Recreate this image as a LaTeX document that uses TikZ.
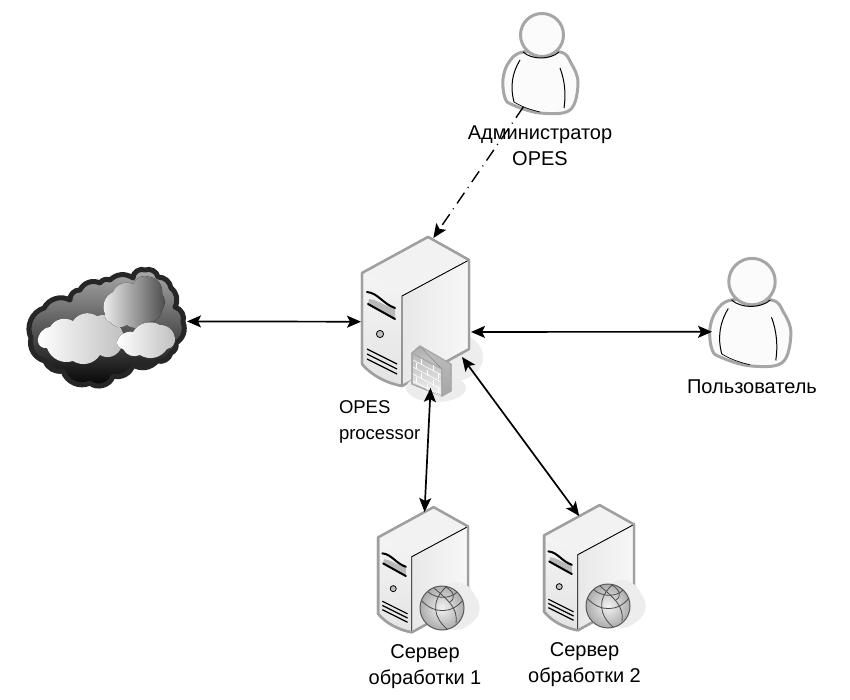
\documentclass[tikz,border=0pt]{standalone}
\usepackage{fontspec}
\setmainfont{Liberation Sans}
\usetikzlibrary{arrows.meta,positioning}

\tikzset{
    server/.pic={
        \fill[gray!14] (38,44) ellipse (29 and 24);
        \draw[gray!75, line width=2.4pt, line join=round, top color=gray!4, bottom color=gray!22]
            (12,-76) -- (53,-53) -- (53,36) -- (-14,73) .. controls (-30,70) and (-45,62) .. (-54,51) -- (-54,-40) -- cycle;
        \fill[left color=gray!18, right color=gray!6] (-14,-17) -- (53,-53) -- (53,36) -- (-14,73) -- cycle;
        \fill[gray!10] (12,-75) -- (52,-53) -- (-14,-18) .. controls (-27,-32) and (-40,-36) .. (-53,-40) -- cycle;
        \draw[black, line width=0.9pt] (53,-53) -- (-14,-17) -- (-14,73);
        \draw[gray!75, line width=2.4pt, line join=round] (12,-76) -- (53,-53) -- (53,36) -- (-14,73) .. controls (-30,70) and (-45,62) .. (-54,51) -- (-54,-40) -- cycle;
        \fill[gray!55] (-48,-9) -- (-47,-14) .. controls (-40,-14) and (-36,-9) .. (-21,-4) -- (-21,6) .. controls (-30,0) and (-40,-4) .. (-48,-9);
        \draw[black, line width=2pt, line cap=round] (-49,-21) .. controls (-38,-20) and (-33,-9) .. (-21,-5);
        \draw[black, line width=2pt, line cap=round] (-48,-9) -- (-21,6);
        \draw[black, fill=gray!50, line width=0.8pt] (-36,21) circle (3.6);
        \foreach \ventrow in {0,5,10} {
            \draw[black, line width=1.2pt] (-49,36+\ventrow) -- (-19,51+\ventrow);
        }
    },
    firewall/.pic={
        \fill[gray!15] (20,75) ellipse (30 and 14);
        \draw[gray!70, line width=1.2pt, line join=round, top color=gray!65, bottom color=gray!8] (4,33) -- (-4,40) -- (-4,71) -- (26,83) -- (26,56) -- cycle;
        \fill[top color=gray!50, bottom color=gray!70] (4,33) -- (35,51) -- (35,78) -- (26,83) -- (26,56) -- cycle;
        \draw[gray!70, line width=1.2pt, line join=round] (4,33) -- (35,51) -- (35,78) -- (26,83) -- (-4,71) -- (-4,40) -- cycle (-4,40) -- (26,56) -- (26,83);
        \foreach \brickrow in {7,14,21,28} {
            \draw[white, line width=0.6pt] (-3,40+\brickrow) -- (25,55+\brickrow);
        }
        \foreach \brickx/\bricky in {5/46,17/52,-0/50,11/57,22/60,5/60,17/67,0/64,11/71,22/74} {
            \draw[white, line width=0.6pt] (\brickx,\bricky) -- +(0,6);
        }
    },
    globe/.pic={
        \fill[gray!14] (14,-2) ellipse (21 and 24);
        \draw[gray!70!black, line width=1pt, inner color=gray!10, outer color=gray!65] (0,0) circle (22);
        \draw[black!70, line width=0.8pt] (4,-21) .. controls (-12,-6) and (-8,10) .. (5,21);
        \draw[black!70, line width=0.8pt] (-8,-20) .. controls (6,-8) and (16,0) .. (14,15);
        \draw[black!70, line width=0.8pt] (-20,-7) .. controls (-8,6) and (10,6) .. (21,-8);
        \draw[black!70, line width=0.8pt] (-14,-16) .. controls (-4,-8) and (10,-10) .. (15,-16);
        \draw[black!70, line width=0.8pt] (4,-21) .. controls (12,-16) and (14,-10) .. (8,-6);
    },
    person/.pic={
        \draw[gray!70, line width=3pt, fill=gray!3, line join=round]
            plot[smooth cycle, tension=0.6] coordinates {(-19,-13) (-33,-3) (-39,14) (-37,33) (-29,40) (-2,48) (28,45) (36,18) (29,-2) (18,-13)};
        \draw[gray!70, line width=3pt, fill=gray!3] (0,-30) circle (21.5);
        \draw[black, line width=1pt] (-19,-13) .. controls (-10,-5) and (8,-5) .. (17,-13);
        \draw[black, line width=1pt] (-22,-5) .. controls (-30,8) and (-32,22) .. (-28,37);
        \draw[black, line width=1pt] (18,3) .. controls (23,16) and (24,30) .. (22,43);
        \draw[black, line width=0.7pt] (-28,37) .. controls (-18,43) and (-10,45) .. (-2,47);
    },
    cloudpic/.pic={
        \draw[black!85, line width=5pt, line join=round, top color=gray!65, middle color=gray!50, bottom color=black]
            (-76,11) to[bend left=50] (-63,-19) to[bend left=45] (-37,-27) to[bend left=50] (-27,-37)
            to[bend left=45] (-7,-44) to[bend left=40] (3,-47) to[bend left=40] (26,-49)
            to[bend left=60] (38,-57) to[bend left=50] (51,-50) to[bend left=40] (64,-39)
            to[bend left=40] (68,-20) to[bend left=45] (76,-5) to[bend left=40] (69,16)
            to[bend left=40] (64,26) to[bend left=45] (50,34) to[bend left=40] (26,38)
            to[bend left=45] (6,49) to[bend left=60] (-17,56) to[bend left=50] (-44,44)
            to[bend left=40] (-62,34) to[bend left=45] (-76,11) -- cycle;
        \fill[shading angle=80, left color=white, right color=gray!50]
            (-69,15) to[bend left=45] (-57,0) to[bend left=45] (-34,-6) to[bend left=45] (-10,-11)
            to[bend left=45] (13,0) to[bend left=35] (13,23) to[bend left=45] (-7,28)
            to[bend left=45] (-34,34) to[bend left=45] (-60,21) to[bend left=45] (-69,15) -- cycle;
        \fill[shading angle=120, left color=gray!10, right color=gray!60!black]
            (-2,-13) to[bend left=45] (6,-35) to[bend left=45] (26,-43) to[bend left=45] (43,-50)
            to[bend left=45] (55,-33) to[bend left=35] (55,-17) to[bend left=45] (41,-5)
            to[bend left=45] (20,-2) to[bend left=45] (3,-5) to[bend left=45] (-2,-13) -- cycle;
        \fill[shading angle=80, left color=white, right color=gray!50]
            (10,15) to[bend left=45] (26,5) to[bend left=45] (53,-2) to[bend left=45] (68,12)
            to[bend left=45] (60,22) to[bend left=45] (33,28) to[bend left=45] (16,22)
            to[bend left=45] (10,15) -- cycle;
    },
    host/.style={rectangle, minimum width=#1, inner sep=0pt, outer sep=0pt},
    caption/.style={font=\fontsize{20pt}{26pt}\selectfont, align=center, inner sep=0pt, outer sep=0pt},
    link/.style={{Stealth[length=14pt, width=12pt, inset=3pt]}-{Stealth[length=14pt, width=12pt, inset=3pt]}, black, line width=1.7pt},
    adminlink/.style={-{Stealth[length=14pt, width=12pt, inset=3pt]}, black, line width=1.4pt, dash pattern=on 13pt off 6pt on 1pt off 6pt}
}

\begin{document}
\begin{tikzpicture}[x=1pt, y=-1pt]
    \useasboundingbox (0,0) rectangle (850,700);

    \node[host=110pt, minimum height=150pt] (opes) at (416,313) {};
    \node[host=160pt, minimum height=120pt, left=174pt of opes, yshift=-14pt] (cloud) {};
    \node[host=76pt, minimum height=84pt] (admin) at (542,65) {};
    \node[host=80pt, minimum height=100pt] (user) at (752,314) {};
    \node[host=90pt, minimum height=118pt, below=124pt of opes, xshift=7.5pt] (server1) {};
    \node[host=90pt, minimum height=106pt, right=76pt of server1, yshift=2pt] (server2) {};
    \coordinate (opes base) at ([shift={(46,44)}]opes.center);

    \pic at (cloud) {cloudpic};
    \pic at (opes) {server};
    \pic at (opes) {firewall};
    \pic[scale=.84] at (server1) {server};
    \pic at ([shift={(18.5,37)}]server1.center) {globe};
    \pic[scale=.84] at (server2) {server};
    \pic at ([shift={(18.5,37)}]server2.center) {globe};
    \pic at (admin) {person};
    \pic[scale=1.08] at (user) {person};

    \node[caption, below=19pt of admin, xshift=-2pt] (admin label) {Администратор\\OPES};
    \node[caption, below=16pt of user] (user label) {Пользователь};
    \node[caption, align=left, anchor=north west, font=\fontsize{18.5pt}{26pt}\selectfont] (opes label) at (339,401) {OPES\\processor};
    \node[caption, below=15pt of server1, xshift=1.5pt] (server1 label) {Сервер\\обработки 1};
    \node[caption, below=21pt of server2, xshift=-5pt] (server2 label) {Сервер\\обработки 2};

    \draw[link] (cloud.4) -- (opes.189);
    \draw[link] (opes.-19) -- (user.204);
    \draw[link] (opes.-79) -- (server1.89);
    \draw[link] (opes base) -- (server2.101);
    \draw[adminlink] (admin.246) -- (opes.77);
\end{tikzpicture}
\end{document}
